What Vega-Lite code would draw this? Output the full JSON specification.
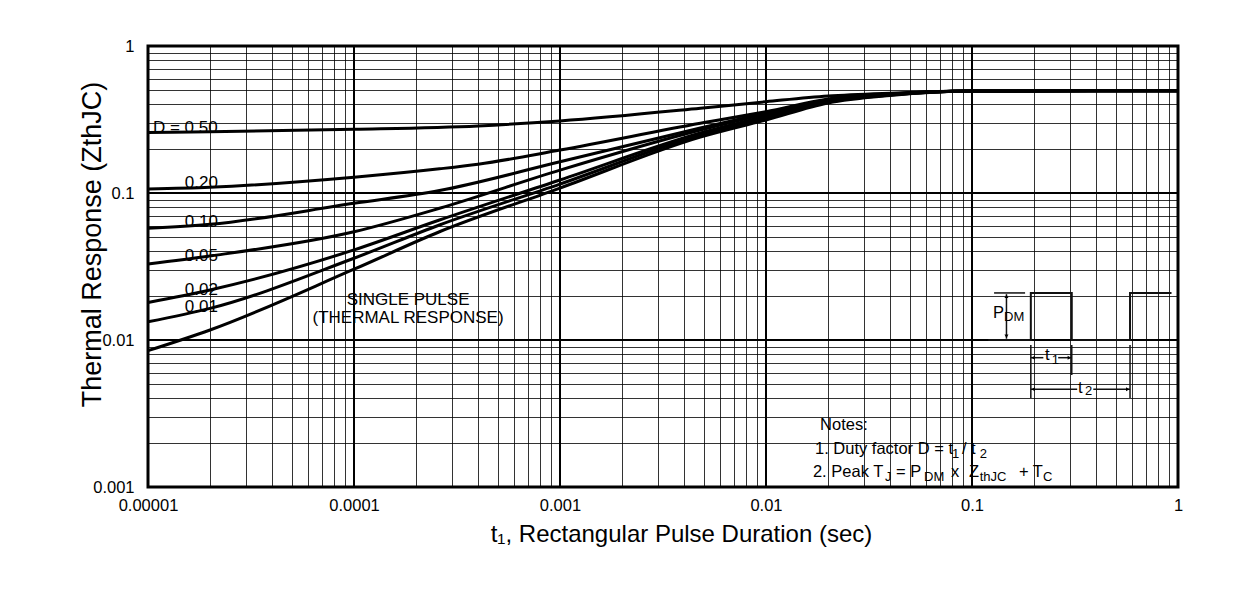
{
  "$schema": "https://vega.github.io/schema/vega-lite/v6.json",
  "width": 1030,
  "height": 441,
  "autosize": {"type": "none"},
  "padding": {"left": 148, "top": 46, "right": 77, "bottom": 125},
  "background": "white",
  "config": {
    "view": {"stroke": "#000", "strokeWidth": 3},
    "font": "Liberation Sans",
    "text": {"font": "Liberation Sans", "color": "#000"},
    "axis": {
      "labelFont": "Liberation Sans",
      "titleFont": "Liberation Sans",
      "labelColor": "#000",
      "titleColor": "#000",
      "titleFontWeight": "normal",
      "domain": false,
      "ticks": false,
      "tickSize": 0,
      "grid": true,
      "gridColor": "#000",
      "gridOpacity": 0.8,
      "gridWidth": 1,
      "labelOverlap": false,
      "labelFlush": false
    }
  },
  "datasets": {
    "decX": [{"t": 0.0001}, {"t": 0.001}, {"t": 0.01}, {"t": 0.1}],
    "decY": [{"z": 0.1}, {"z": 0.01}],
    "curves": [
      {"D": "0.50", "t": 0.00001, "z": 0.258}, {"D": "0.50", "t": 0.00002, "z": 0.261}, {"D": "0.50", "t": 0.0001, "z": 0.271}, {"D": "0.50", "t": 0.0004, "z": 0.286}, {"D": "0.50", "t": 0.001, "z": 0.309}, {"D": "0.50", "t": 0.0048, "z": 0.377}, {"D": "0.50", "t": 0.01, "z": 0.418}, {"D": "0.50", "t": 0.02, "z": 0.457}, {"D": "0.50", "t": 0.04, "z": 0.478}, {"D": "0.50", "t": 0.1, "z": 0.494}, {"D": "0.50", "t": 1, "z": 0.497},
      {"D": "0.20", "t": 0.00001, "z": 0.1064}, {"D": "0.20", "t": 0.00002, "z": 0.1094}, {"D": "0.20", "t": 0.0001, "z": 0.128}, {"D": "0.20", "t": 0.00026, "z": 0.146}, {"D": "0.20", "t": 0.0004, "z": 0.157}, {"D": "0.20", "t": 0.001, "z": 0.196}, {"D": "0.20", "t": 0.0048, "z": 0.298}, {"D": "0.20", "t": 0.01, "z": 0.357}, {"D": "0.20", "t": 0.02, "z": 0.436}, {"D": "0.20", "t": 0.04, "z": 0.472}, {"D": "0.20", "t": 0.1, "z": 0.494}, {"D": "0.20", "t": 1, "z": 0.497},
      {"D": "0.10", "t": 0.00001, "z": 0.0575}, {"D": "0.10", "t": 0.00002, "z": 0.0612}, {"D": "0.10", "t": 0.0001, "z": 0.0851}, {"D": "0.10", "t": 0.00026, "z": 0.104}, {"D": "0.10", "t": 0.001, "z": 0.163}, {"D": "0.10", "t": 0.0048, "z": 0.277}, {"D": "0.10", "t": 0.01, "z": 0.35}, {"D": "0.10", "t": 0.02, "z": 0.43}, {"D": "0.10", "t": 0.04, "z": 0.47}, {"D": "0.10", "t": 0.1, "z": 0.494}, {"D": "0.10", "t": 1, "z": 0.497},
      {"D": "0.05", "t": 0.00001, "z": 0.0329}, {"D": "0.05", "t": 0.00002, "z": 0.0373}, {"D": "0.05", "t": 0.0001, "z": 0.0545}, {"D": "0.05", "t": 0.00026, "z": 0.0787}, {"D": "0.05", "t": 0.001, "z": 0.143}, {"D": "0.05", "t": 0.0048, "z": 0.268}, {"D": "0.05", "t": 0.01, "z": 0.345}, {"D": "0.05", "t": 0.02, "z": 0.426}, {"D": "0.05", "t": 0.04, "z": 0.468}, {"D": "0.05", "t": 0.1, "z": 0.494}, {"D": "0.05", "t": 1, "z": 0.497},
      {"D": "0.02", "t": 0.00001, "z": 0.018}, {"D": "0.02", "t": 0.00002, "z": 0.0219}, {"D": "0.02", "t": 0.0001, "z": 0.041}, {"D": "0.02", "t": 0.00026, "z": 0.0655}, {"D": "0.02", "t": 0.001, "z": 0.1226}, {"D": "0.02", "t": 0.0048, "z": 0.256}, {"D": "0.02", "t": 0.01, "z": 0.334}, {"D": "0.02", "t": 0.02, "z": 0.423}, {"D": "0.02", "t": 0.04, "z": 0.466}, {"D": "0.02", "t": 0.1, "z": 0.494}, {"D": "0.02", "t": 1, "z": 0.497},
      {"D": "0.01", "t": 0.00001, "z": 0.0133}, {"D": "0.01", "t": 0.00002, "z": 0.0164}, {"D": "0.01", "t": 0.0001, "z": 0.036}, {"D": "0.01", "t": 0.00026, "z": 0.0606}, {"D": "0.01", "t": 0.001, "z": 0.115}, {"D": "0.01", "t": 0.0048, "z": 0.248}, {"D": "0.01", "t": 0.01, "z": 0.324}, {"D": "0.01", "t": 0.02, "z": 0.416}, {"D": "0.01", "t": 0.04, "z": 0.464}, {"D": "0.01", "t": 0.1, "z": 0.494}, {"D": "0.01", "t": 1, "z": 0.497},
      {"D": "single", "t": 0.00001, "z": 0.00846}, {"D": "single", "t": 0.00002, "z": 0.0117}, {"D": "single", "t": 0.0001, "z": 0.0303}, {"D": "single", "t": 0.00026, "z": 0.0545}, {"D": "single", "t": 0.001, "z": 0.108}, {"D": "single", "t": 0.0048, "z": 0.24}, {"D": "single", "t": 0.01, "z": 0.314}, {"D": "single", "t": 0.02, "z": 0.41}, {"D": "single", "t": 0.04, "z": 0.461}, {"D": "single", "t": 0.1, "z": 0.494}, {"D": "single", "t": 1, "z": 0.497}
    ],
    "wave": [
      {"i": 1, "t": 0.12, "z": 0.01}, {"i": 2, "t": 0.193, "z": 0.01}, {"i": 3, "t": 0.193, "z": 0.0209}, {"i": 4, "t": 0.305, "z": 0.0209}, {"i": 5, "t": 0.305, "z": 0.01}, {"i": 6, "t": 0.585, "z": 0.01}, {"i": 7, "t": 0.585, "z": 0.0209}, {"i": 8, "t": 0.93, "z": 0.0209}
    ],
    "segments": [
      {"t": 0.128, "z": 0.0209, "t2": 0.181, "z2": 0.0209},
      {"t": 0.147, "z": 0.0205, "t2": 0.147, "z2": 0.0102},
      {"t": 0.193, "z": 0.00925, "t2": 0.193, "z2": 0.00403},
      {"t": 0.305, "z": 0.00925, "t2": 0.305, "z2": 0.00578},
      {"t": 0.585, "z": 0.00925, "t2": 0.585, "z2": 0.00403},
      {"t": 0.193, "z": 0.00758, "t2": 0.222, "z2": 0.00758},
      {"t": 0.262, "z": 0.00758, "t2": 0.305, "z2": 0.00758},
      {"t": 0.193, "z": 0.00462, "t2": 0.324, "z2": 0.00462},
      {"t": 0.388, "z": 0.00462, "t2": 0.585, "z2": 0.00462}
    ],
    "arrows": [
      {"t": 0.147, "z": 0.0198, "dir": "up"},
      {"t": 0.147, "z": 0.0106, "dir": "down"},
      {"t": 0.198, "z": 0.00758, "dir": "left"},
      {"t": 0.297, "z": 0.00758, "dir": "right"},
      {"t": 0.198, "z": 0.00462, "dir": "left"},
      {"t": 0.57, "z": 0.00462, "dir": "right"}
    ],
    "curveLabels": [
      {"t": 0.00001057, "z": 0.277, "text": "D = 0.50"},
      {"t": 0.0000151, "z": 0.117, "text": "0.20"},
      {"t": 0.0000151, "z": 0.0638, "text": "0.10"},
      {"t": 0.0000151, "z": 0.0374, "text": "0.05"},
      {"t": 0.0000151, "z": 0.0219, "text": "0.02"},
      {"t": 0.0000151, "z": 0.01685, "text": "0.01"}
    ],
    "single": [
      {"t": 0.000183, "z": 0.0187, "text": "SINGLE PULSE"},
      {"t": 0.000183, "z": 0.0141, "text": "(THERMAL RESPONSE)"}
    ],
    "notes": [
      {"t": 0.0183, "z": 0.00245, "text": "Notes:"},
      {"t": 0.01729, "z": 0.001676, "text": "1. Duty factor D = t"},
      {"t": 0.0893, "z": 0.001676, "text": "/ t"},
      {"t": 0.0169, "z": 0.001164, "text": "2. Peak T"},
      {"t": 0.0428, "z": 0.001164, "text": "= P"},
      {"t": 0.0791, "z": 0.001164, "text": "x"},
      {"t": 0.0967, "z": 0.001164, "text": "Z"},
      {"t": 0.169, "z": 0.001164, "text": "+ T"},
      {"t": 0.1265, "z": 0.01405, "text": "P"},
      {"t": 0.226, "z": 0.00731, "text": "t"},
      {"t": 0.327, "z": 0.00438, "text": "t"}
    ],
    "subs": [
      {"t": 0.08, "z": 0.001575, "text": "1"},
      {"t": 0.109, "z": 0.001575, "text": "2"},
      {"t": 0.0378, "z": 0.0011, "text": "J"},
      {"t": 0.0585, "z": 0.0011, "text": "DM"},
      {"t": 0.109, "z": 0.0011, "text": "thJC"},
      {"t": 0.221, "z": 0.0011, "text": "C"},
      {"t": 0.143, "z": 0.01353, "text": "DM"},
      {"t": 0.244, "z": 0.00687, "text": "1"},
      {"t": 0.354, "z": 0.00423, "text": "2"}
    ]
  },
  "layer": [
    {
      "data": {"name": "decX"},
      "mark": {"type": "rule", "color": "#000", "strokeWidth": 2},
      "encoding": {
        "x": {
          "field": "t", "type": "quantitative",
          "scale": {"type": "log", "domain": [0.00001, 1], "nice": false},
          "axis": {
            "values": [0.00001, 0.00002, 0.00003, 0.00004, 0.00005, 0.00006, 0.00007, 0.00008, 0.00009, 0.0001, 0.0002, 0.0003, 0.0004, 0.0005, 0.0006, 0.0007, 0.0008, 0.0009, 0.001, 0.002, 0.003, 0.004, 0.005, 0.006, 0.007, 0.008, 0.009, 0.01, 0.02, 0.03, 0.04, 0.05, 0.06, 0.07, 0.08, 0.09, 0.1, 0.2, 0.3, 0.4, 0.5, 0.6, 0.7, 0.8, 0.9, 1],
            "labelExpr": "abs(log(datum.value)/LN10 - round(log(datum.value)/LN10)) < 0.001 ? format(datum.value, '~f') : ''",
            "labelFontSize": 16.5,
            "labelPadding": 10,
            "title": "t₁, Rectangular Pulse Duration (sec)",
            "titleFontSize": 24,
            "titleX": 533,
            "titleY": 54,
            "titleBaseline": "alphabetic",
            "titleAlign": "center"
          }
        }
      }
    },
    {
      "data": {"name": "decY"},
      "mark": {"type": "rule", "color": "#000", "strokeWidth": 2},
      "encoding": {
        "y": {
          "field": "z", "type": "quantitative",
          "scale": {"type": "log", "domain": [0.001, 1], "nice": false},
          "axis": {
            "values": [0.001, 0.002, 0.003, 0.004, 0.005, 0.006, 0.007, 0.008, 0.009, 0.01, 0.02, 0.03, 0.04, 0.05, 0.06, 0.07, 0.08, 0.09, 0.1, 0.2, 0.3, 0.4, 0.5, 0.6, 0.7, 0.8, 0.9, 1],
            "labelExpr": "abs(log(datum.value)/LN10 - round(log(datum.value)/LN10)) < 0.001 ? format(datum.value, '~f') : ''",
            "labelFontSize": 16.5,
            "labelPadding": 14,
            "title": "Thermal Response (ZthJC)",
            "titleFontSize": 27,
            "titleX": -48,
            "titleY": 198,
            "titleAngle": -90,
            "titleBaseline": "alphabetic",
            "titleAlign": "center"
          }
        }
      }
    },
    {
      "data": {"name": "curves"},
      "mark": {"type": "line", "color": "#000", "strokeWidth": 3, "interpolate": "monotone"},
      "encoding": {
        "x": {"field": "t", "type": "quantitative", "scale": {"type": "log", "domain": [0.00001, 1], "nice": false}},
        "y": {"field": "z", "type": "quantitative", "scale": {"type": "log", "domain": [0.001, 1], "nice": false}},
        "detail": {"field": "D", "type": "nominal"}
      }
    },
    {
      "data": {"name": "wave"},
      "mark": {"type": "line", "color": "#111", "strokeWidth": 2},
      "encoding": {
        "x": {"field": "t", "type": "quantitative"},
        "y": {"field": "z", "type": "quantitative"},
        "order": {"field": "i", "type": "quantitative"}
      }
    },
    {
      "data": {"name": "segments"},
      "mark": {"type": "rule", "color": "#111", "strokeWidth": 1.5},
      "encoding": {
        "x": {"field": "t", "type": "quantitative"},
        "y": {"field": "z", "type": "quantitative"},
        "x2": {"field": "t2"},
        "y2": {"field": "z2"}
      }
    },
    {
      "data": {"name": "arrows"},
      "mark": {"type": "point", "filled": true, "color": "#000", "size": 16, "opacity": 1},
      "encoding": {
        "x": {"field": "t", "type": "quantitative"},
        "y": {"field": "z", "type": "quantitative"},
        "shape": {
          "field": "dir", "type": "nominal",
          "scale": {"domain": ["up", "down", "left", "right"], "range": ["triangle-up", "triangle-down", "triangle-left", "triangle-right"]},
          "legend": null
        }
      }
    },
    {
      "data": {"name": "curveLabels"},
      "mark": {"type": "text", "align": "left", "baseline": "middle", "fontSize": 17, "color": "#000"},
      "encoding": {
        "x": {"field": "t", "type": "quantitative"},
        "y": {"field": "z", "type": "quantitative"},
        "text": {"field": "text"}
      }
    },
    {
      "data": {"name": "single"},
      "mark": {"type": "text", "align": "center", "baseline": "middle", "fontSize": 17, "color": "#000"},
      "encoding": {
        "x": {"field": "t", "type": "quantitative"},
        "y": {"field": "z", "type": "quantitative"},
        "text": {"field": "text"}
      }
    },
    {
      "data": {"name": "notes"},
      "mark": {"type": "text", "align": "left", "baseline": "alphabetic", "fontSize": 16.5, "color": "#000"},
      "encoding": {
        "x": {"field": "t", "type": "quantitative"},
        "y": {"field": "z", "type": "quantitative"},
        "text": {"field": "text"}
      }
    },
    {
      "data": {"name": "subs"},
      "mark": {"type": "text", "align": "left", "baseline": "alphabetic", "fontSize": 13, "color": "#000"},
      "encoding": {
        "x": {"field": "t", "type": "quantitative"},
        "y": {"field": "z", "type": "quantitative"},
        "text": {"field": "text"}
      }
    }
  ]
}
